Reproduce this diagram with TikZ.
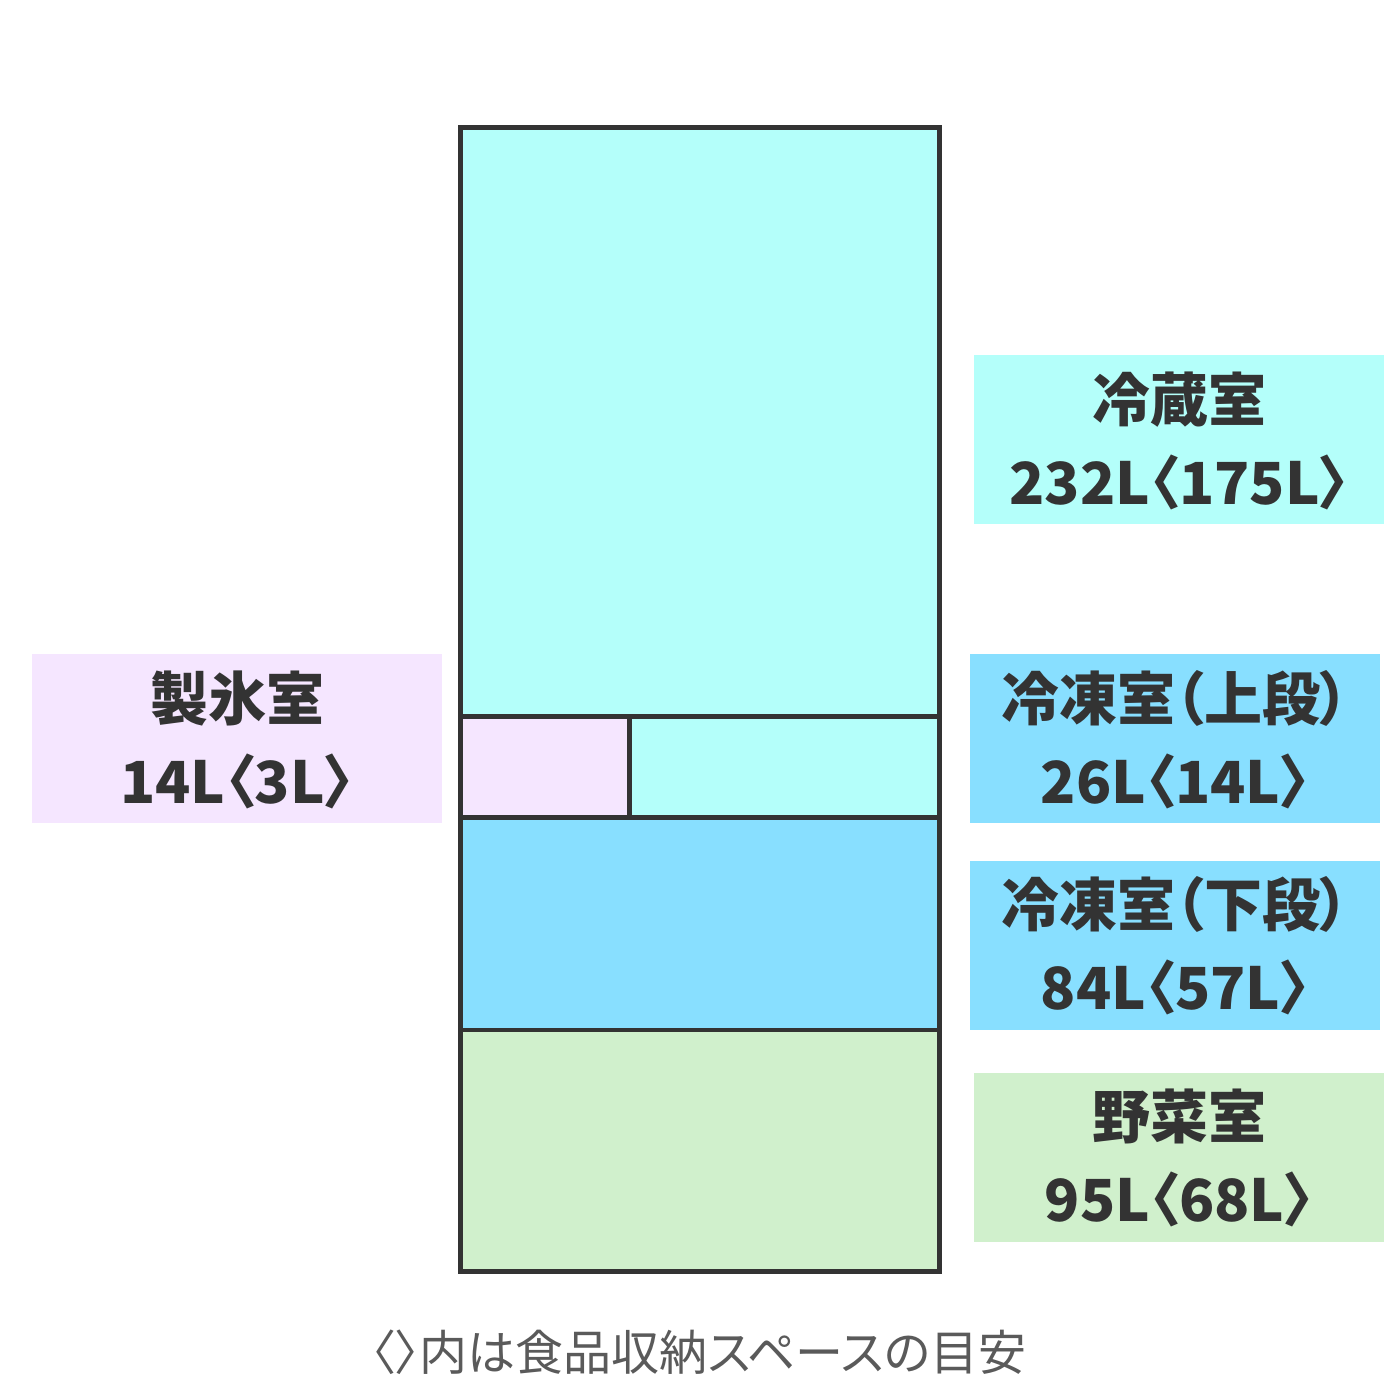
\documentclass[tikz,border=0pt]{standalone}
\usepackage{fontspec}
\newfontfamily\jpfont[RawFeature=+palt]{Noto Sans CJK JP}
\definecolor{linec}{HTML}{333333}
\definecolor{textc}{HTML}{333333}
\definecolor{capc}{HTML}{5A5A5A}
\definecolor{fridgec}{HTML}{B4FFFA}
\definecolor{freezec}{HTML}{88DFFF}
\definecolor{vegc}{HTML}{D0F0CC}
\definecolor{icec}{HTML}{F5E6FF}
\tikzset{
  lbox/.style={draw=none, inner sep=0pt, outer sep=0pt, minimum width=410pt, minimum height=169pt},
  ltxt/.style={inner sep=0pt, outer sep=0pt, anchor=base, text=textc, font=\jpfont\bfseries\fontsize{58}{70}\selectfont},
  ctxt/.style={inner sep=0pt, outer sep=0pt, anchor=base, text=capc, font=\jpfont\fontsize{48}{58}\selectfont},
  wall/.style={draw=linec, line width=4.5pt},
}
\begin{document}
\begin{tikzpicture}[x=1pt, y=-1pt]
\useasboundingbox (0,0) rectangle (1400,1400);
% compartment fills
\fill[fridgec] (460.5,127.5) rectangle (939.5,716.5);
\fill[icec] (460.5,716.5) rectangle (629.5,817.5);
\fill[fridgec] (629.5,716.5) rectangle (939.5,817.5);
\fill[freezec] (460.5,817.5) rectangle (939.5,1030);
\fill[vegc] (460.5,1030) rectangle (939.5,1271.5);
% walls
\draw[wall] (460.5,716.5) -- (939.5,716.5);
\draw[wall] (460.5,817.5) -- (939.5,817.5);
\draw[wall] (460.5,1030) -- (939.5,1030);
\draw[wall] (629.5,716.5) -- (629.5,817.5);
\draw[wall] (460.5,127.5) rectangle (939.5,1271.5);
% label boxes
\node[lbox, fill=fridgec] (rbox) at (1179,439.5) {};
\node[lbox, fill=icec] (ibox) at (237,738.5) {};
\node[lbox, fill=freezec] (fubox) at (1175,738.5) {};
\node[lbox, fill=freezec] (flbox) at (1175,945) {};
\node[lbox, fill=vegc] (vbox) at (1179,1157) {};
% label texts
\node[ltxt] (r1) at (1179,421) {冷蔵室};
\node[ltxt] (r2) at (1179,504) {232L〈175L〉};
\node[ltxt] (i1) at (237,720) {製氷室};
\node[ltxt] (i2) at (237,803) {14L〈3L〉};
\node[ltxt] (fu1) at (1175,720) {冷凍室（上段）};
\node[ltxt] (fu2) at (1175,803) {26L〈14L〉};
\node[ltxt] (fl1) at (1175,926) {冷凍室（下段）};
\node[ltxt] (fl2) at (1175,1009) {84L〈57L〉};
\node[ltxt] (v1) at (1179,1138) {野菜室};
\node[ltxt] (v2) at (1179,1221) {95L〈68L〉};
% caption
\node[ctxt] (cap) at (699,1370) {〈〉内は食品収納スペースの目安};
\end{tikzpicture}
\end{document}
